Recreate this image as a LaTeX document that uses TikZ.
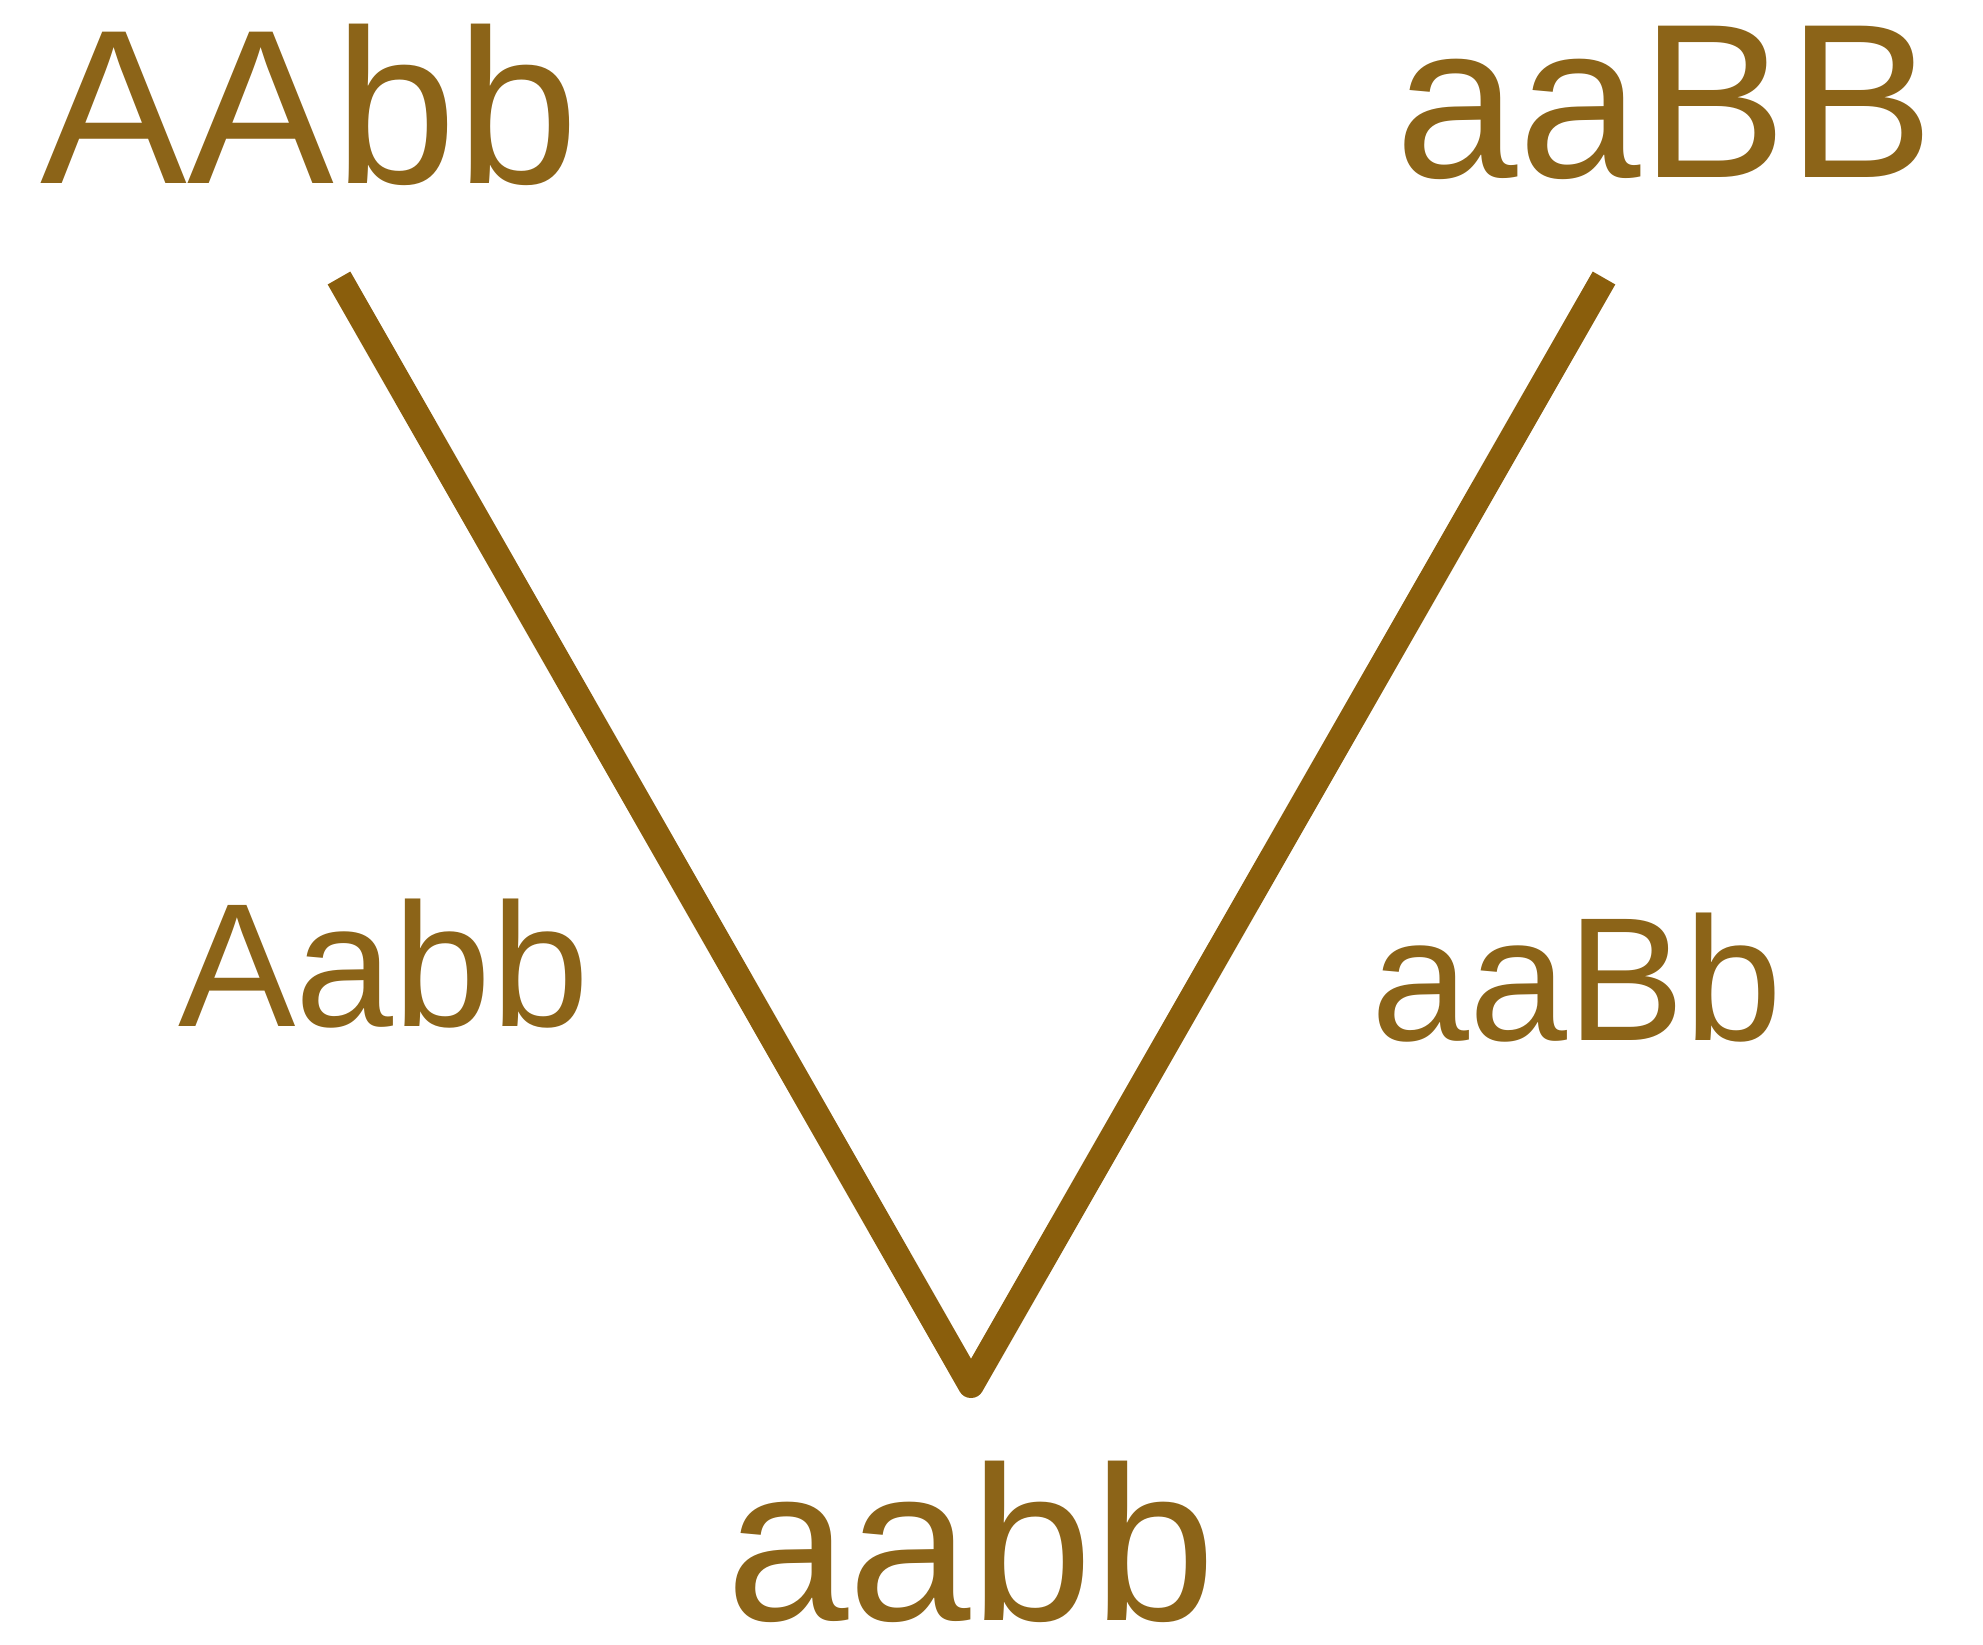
\documentclass[tikz,border=0pt]{standalone}
\usepackage{fontspec}
\setmainfont{Liberation Sans}
\definecolor{txtbrown}{RGB}{140,100,24}
\definecolor{linebrown}{RGB}{138,94,12}
\begin{document}
\begin{tikzpicture}[x=0.5pt,y=-0.5pt,
  big/.style={inner sep=0pt,anchor=base,text=txtbrown,font=\fontsize{110}{120}\selectfont},
  mid/.style={inner sep=0pt,anchor=base,text=txtbrown,font=\fontsize{88}{96}\selectfont},
  vline/.style={draw=linebrown,line width=13pt,line join=round}]
\useasboundingbox[fill=white] (0,0) rectangle (1983,1645);
\node[big] (p1) at (310,183) {AAbb};
\node[big] (p2) at (1665,177) {aaBB};
\node[mid] (g1) at (384,1026) {Aabb};
\node[mid] (g2) at (1577,1040) {aaBb};
\node[big] (f2) at (971,1620) {aabb};
\coordinate (lt) at (339,278);
\coordinate (rt) at (1604,278);
\coordinate (tip) at (971,1385);
\draw[vline] (lt) -- (tip) -- (rt);
\end{tikzpicture}
\end{document}
